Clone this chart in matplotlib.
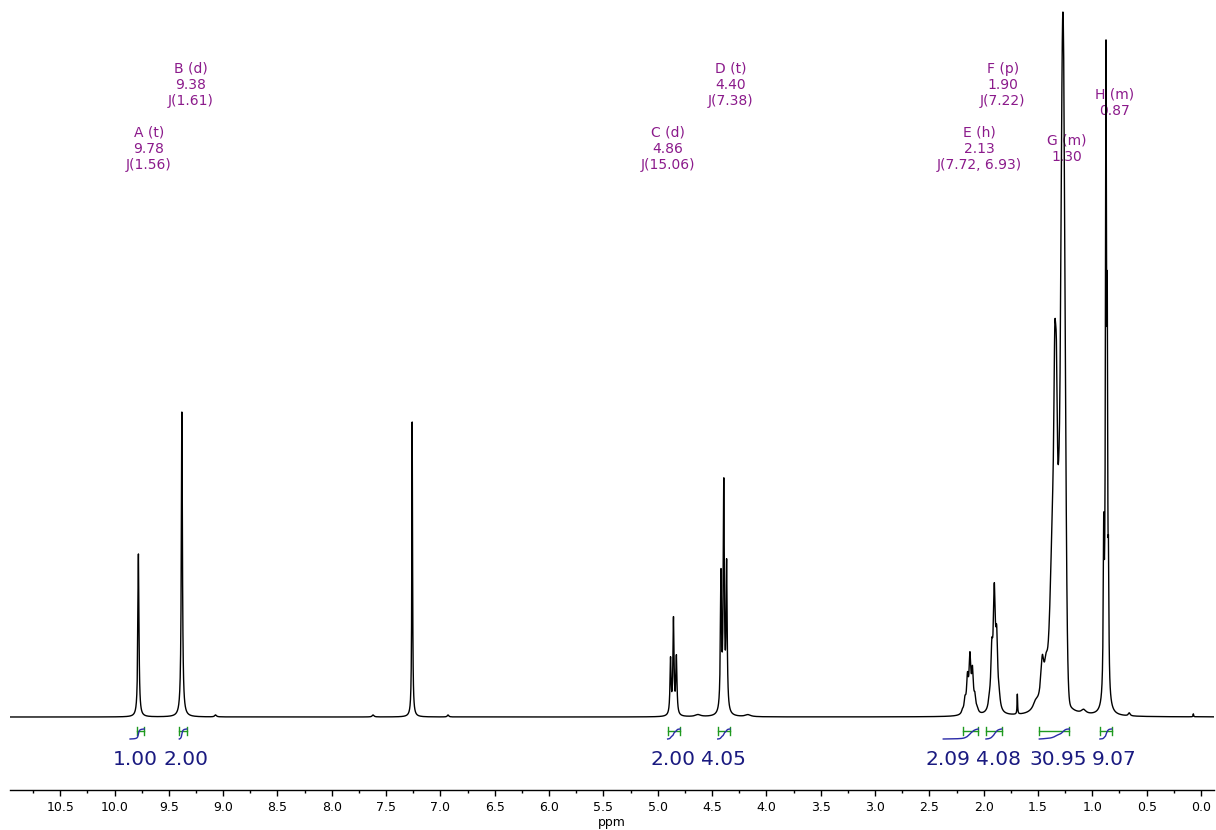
import numpy as np
import matplotlib
matplotlib.use("Agg")
import matplotlib.pyplot as plt
from matplotlib.ticker import MultipleLocator, FormatStrFormatter

# Resolved lines of the 1H spectrum: position (ppm), height (a.u.),
# half-width at half maximum (ppm) and line shape (L = Lorentzian, G = Gaussian)
line_ppm = [9.78, 9.38, 9.07, 7.62, 7.26, 6.93,
            4.882, 4.855, 4.828, 4.63,
            4.418, 4.392, 4.366, 4.17,
            2.195, 2.172, 2.149, 2.126, 2.103, 2.080, 2.057,
            1.948, 1.925, 1.902, 1.880, 1.857,
            1.69,
            1.52, 1.46, 1.425, 1.36, 1.335, 1.345, 1.330, 1.31, 1.27,
            1.08,
            0.895, 0.874, 0.862, 0.851,
            0.66, 0.07]
line_height = [163, 305, 2, 2, 295, 2,
               55, 95, 57, 2,
               135, 225, 145, 2,
               3, 12, 32, 52, 38, 14, 3,
               6, 52, 110, 64, 8,
               20,
               8, 42, 30, 120, 200, 100, 100, 45, 668,
               4,
               150, 635, 300, 100,
               3, 3]
line_hwhm = [0.006, 0.006, 0.01, 0.01, 0.004, 0.008,
             0.006, 0.006, 0.006, 0.03,
             0.006, 0.006, 0.006, 0.03,
             0.01, 0.01, 0.01, 0.01, 0.01, 0.01, 0.01,
             0.011, 0.011, 0.011, 0.011, 0.011,
             0.003,
             0.03, 0.018, 0.02, 0.03, 0.03, 0.008, 0.008, 0.01, 0.0224,
             0.025,
             0.005, 0.006, 0.004, 0.004,
             0.01, 0.003]
line_shape = (["L"] * 27
              + ["L", "L", "L", "G", "L", "G", "G", "G", "G"]
              + ["L"] * 7)

# Multiplet annotations
mult_names = ["A (t)", "B (d)", "C (d)", "D (t)", "E (h)", "F (p)", "G (m)", "H (m)"]
mult_shift = [9.78, 9.38, 4.86, 4.40, 2.13, 1.90, 1.30, 0.87]
mult_j = ["J(1.56)", "J(1.61)", "J(15.06)", "J(7.38)", "J(7.72, 6.93)", "J(7.22)", "", ""]
mult_label_x = [9.686, 9.299, 4.906, 4.326, 2.043, 1.825, 1.231, 0.792]
mult_label_y = [568, 632, 568, 632, 568, 632, 568, 614]

# Integral regions (ppm) and normalised values
int_from = [9.796, 9.404, 4.909, 4.448, 2.193, 1.979, 1.488, 0.930]
int_to = [9.726, 9.336, 4.795, 4.335, 2.050, 1.834, 1.212, 0.822]
int_curve_from = [9.857, 9.404, 4.909, 4.448, 2.372, 1.979, 1.488, 0.930]
int_values = [1.00, 2.00, 2.00, 4.05, 2.09, 4.08, 30.95, 9.07]
int_label_x = [9.811, 9.346, 4.864, 4.399, 2.329, 1.859, 1.316, 0.801]

ppm = np.linspace(-0.3, 11.2, 60000)
spec = np.zeros_like(ppm)
for x0, h, w, shape in zip(line_ppm, line_height, line_hwhm, line_shape):
    u = (ppm - x0) / w
    if shape == "G":
        spec += h * np.exp(-np.log(2.0) * u ** 2)
    else:
        spec += h / (1.0 + u ** 2)

fig = plt.figure(figsize=(12.16, 8.30), dpi=100)
ax = fig.add_axes([10 / 1216, 40.5 / 830, 1204 / 1216, 789.5 / 830])

ax.plot(ppm, spec, color="black", lw=1.0, zorder=3)

ax.set_xlim(10.962, -0.120)
ax.set_ylim(-72.5, 717)

# multiplet labels
for name, sh, j, lx, ly in zip(mult_names, mult_shift, mult_j, mult_label_x,
                               mult_label_y):
    txt = f"{name}\n{sh:.2f}" + (f"\n{j}" if j else "")
    ax.text(lx, ly, txt, ha="center", va="center", fontsize=10,
            color="#8b1a8b", linespacing=1.2, zorder=1,
            family="DejaVu Sans")

# integrals
green = "#1f9a1f"
blue_curve = "#2a2aa8"
for a, b, c, val, lx in zip(int_from, int_to, int_curve_from, int_values,
                            int_label_x):
    ax.plot([a, b], [-13.5, -13.5], color=green, lw=1.0, zorder=2)
    for e in (a, b):
        ax.plot([e, e], [-17.5, -9.5], color=green, lw=1.0, zorder=2)
    m = (ppm <= c) & (ppm >= b)
    xs = ppm[m][::-1]
    ys = spec[m][::-1]
    cum = np.cumsum(ys)
    cum = (cum - cum[0]) / (cum[-1] - cum[0])
    ax.plot(xs, -22 + 10 * cum, color=blue_curve, lw=1.0, zorder=2)
    ax.text(lx, -42, f"{val:.2f}", ha="center", va="center", fontsize=14.5,
            color="#1a1a80", family="DejaVu Sans")

for s in ("top", "left", "right"):
    ax.spines[s].set_visible(False)
ax.spines["bottom"].set_linewidth(1.0)
ax.set_yticks([])
ax.xaxis.set_major_locator(MultipleLocator(0.5))
ax.xaxis.set_minor_locator(MultipleLocator(0.25))
ax.xaxis.set_major_formatter(FormatStrFormatter("%.1f"))
ax.tick_params(axis="x", which="major", length=4.5, width=1.0, pad=3.5,
               labelsize=9, direction="out")
ax.tick_params(axis="x", which="minor", length=2.5, width=1.0,
               direction="out")
ax.set_xlabel("ppm", fontsize=9, labelpad=2)
ax.patch.set_alpha(0)

fig.savefig("out.png", dpi=100, facecolor="white")
